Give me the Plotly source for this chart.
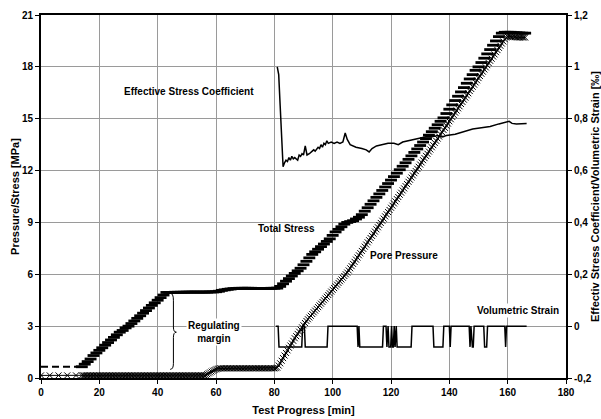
import plotly.graph_objects as go

# ---- data -------------------------------------------------------------
# Total stress: constant pre-load (dashed) then the logged stress curve
preload_time = [0, 13.5]
preload_stress = [0.65, 0.65]

stress_time = list(range(14, 167))
stress_mpa = [
    0.65, 0.8, 0.95, 1.1, 1.3, 1.45, 1.6, 1.75, 1.9, 2.05,          # 14-23
    2.2, 2.35, 2.5, 2.65, 2.75, 2.9, 3.0, 3.15, 3.3, 3.45,          # 24-33
    3.6, 3.75, 3.9, 4.05, 4.2, 4.35, 4.5, 4.65, 4.8, 4.95,          # 34-43
    4.95, 4.95, 4.96, 4.96, 4.96, 4.96, 4.97, 4.97, 4.97, 4.97,     # 44-53
    4.97, 4.97, 4.97, 4.97, 4.98, 4.98, 4.99, 5.02, 5.07, 5.1,      # 54-63
    5.13, 5.15, 5.17, 5.18, 5.19, 5.19, 5.19, 5.19, 5.19, 5.18,     # 64-73
    5.18, 5.18, 5.18, 5.18, 5.18, 5.19, 5.19, 5.2, 5.3, 5.45,       # 74-83
    5.6, 5.75, 5.9, 6.05, 6.2, 6.35, 6.55, 6.75, 6.95, 7.15,        # 84-93
    7.3, 7.45, 7.6, 7.75, 7.9, 8.05, 8.25, 8.45, 8.6, 8.75,         # 94-103
    8.9, 9.0, 9.05, 9.1, 9.2, 9.3, 9.45, 9.65, 9.85, 10.05,         # 104-113
    10.25, 10.45, 10.65, 10.85, 11.05, 11.25, 11.45, 11.65, 11.85, 12.05,  # 114-123
    12.25, 12.45, 12.65, 12.85, 13.05, 13.25, 13.45, 13.65, 13.85, 14.05,  # 124-133
    14.25, 14.45, 14.65, 14.85, 15.05, 15.3, 15.55, 15.8, 16.05, 16.3,     # 134-143
    16.55, 16.8, 17.05, 17.3, 17.55, 17.8, 18.0, 18.25, 18.5, 18.75,       # 144-153
    19.0, 19.25, 19.5, 19.75, 19.95, 20.0, 20.0, 20.0, 19.98, 19.97,       # 154-163
    19.96, 19.95, 19.95,                                                   # 164-166
]

# Pore pressure: sparse readings up to 12 min, then every half minute
pore_time = [0, 3, 6, 9, 12] + [k / 2 for k in range(28, 333)]
pore_mpa = [
    0.15, 0.15, 0.15, 0.15, 0.15,                                   # 0-12
    # 14.0 - 56.0
    0.15, 0.15, 0.15, 0.15, 0.15, 0.15, 0.15, 0.15, 0.15, 0.15,
    0.15, 0.15, 0.15, 0.15, 0.15, 0.15, 0.15, 0.15, 0.15, 0.15,
    0.15, 0.15, 0.15, 0.15, 0.15, 0.15, 0.15, 0.15, 0.15, 0.15,
    0.15, 0.15, 0.15, 0.15, 0.15, 0.15, 0.15, 0.15, 0.15, 0.15,
    0.15, 0.15, 0.15, 0.15, 0.15, 0.15, 0.15, 0.15, 0.15, 0.15,
    0.15, 0.15, 0.15, 0.15, 0.15, 0.15, 0.15, 0.15, 0.15, 0.15,
    0.15, 0.15, 0.15, 0.15, 0.15, 0.15, 0.15, 0.15, 0.15, 0.15,
    0.15, 0.15, 0.15, 0.15, 0.15, 0.15, 0.15, 0.15, 0.15, 0.15,
    0.15, 0.15, 0.15, 0.15, 0.15,
    # 56.5 - 61.5
    0.17, 0.22, 0.27, 0.32, 0.37, 0.42, 0.46, 0.5, 0.53, 0.55, 0.56,
    # 62.0 - 80.0
    0.56, 0.56, 0.56, 0.56, 0.56, 0.56, 0.56, 0.56, 0.56, 0.56,
    0.56, 0.56, 0.56, 0.56, 0.56, 0.56, 0.56, 0.56, 0.56, 0.56,
    0.56, 0.56, 0.56, 0.56, 0.56, 0.56, 0.56, 0.56, 0.56, 0.56,
    0.56, 0.56, 0.56, 0.56, 0.56, 0.56, 0.56,
    # 80.5 - 81.0
    0.57, 0.6,
    # 81.5 - 166.0
    0.72, 0.85, 1.0, 1.15, 1.3, 1.45, 1.6, 1.75, 1.88, 2.0,
    2.15, 2.3, 2.42, 2.55, 2.68, 2.8, 2.93, 3.05, 3.18, 3.3,
    3.4, 3.5, 3.6, 3.7, 3.8, 3.9, 4.0, 4.1, 4.2, 4.3,
    4.4, 4.5, 4.6, 4.7, 4.8, 4.9, 5.0, 5.1, 5.2, 5.3,
    5.4, 5.5, 5.6, 5.7, 5.8, 5.9, 6.0, 6.1, 6.22, 6.35,
    6.47, 6.6, 6.72, 6.85, 6.97, 7.1, 7.22, 7.35, 7.47, 7.6,
    7.72, 7.85, 7.97, 8.1, 8.22, 8.35, 8.47, 8.6, 8.72, 8.85,
    8.97, 9.1, 9.22, 9.35, 9.47, 9.6, 9.72, 9.85, 9.97, 10.1,
    10.22, 10.35, 10.47, 10.6, 10.72, 10.85, 10.97, 11.1, 11.22, 11.35,
    11.47, 11.6, 11.72, 11.85, 11.97, 12.1, 12.22, 12.35, 12.47, 12.6,
    12.72, 12.85, 12.97, 13.1, 13.22, 13.35, 13.47, 13.6, 13.72, 13.85,
    13.97, 14.1, 14.22, 14.35, 14.47, 14.6, 14.72, 14.85, 14.97, 15.1,
    15.22, 15.35, 15.47, 15.6, 15.72, 15.85, 15.97, 16.1, 16.22, 16.35,
    16.47, 16.6, 16.72, 16.85, 16.97, 17.1, 17.22, 17.35, 17.47, 17.6,
    17.72, 17.85, 17.97, 18.1, 18.22, 18.35, 18.47, 18.6, 18.72, 18.85,
    18.97, 19.1, 19.22, 19.35, 19.47, 19.6, 19.7, 19.75, 19.76, 19.75,
    19.74, 19.73, 19.72, 19.71, 19.7, 19.7, 19.7, 19.7, 19.7, 19.7,
]

# Effective stress coefficient (right axis, dimensionless)
esc_time = [
    81.0, 81.5, 82.0, 82.5, 83.0, 83.5, 84.0, 84.5, 85.0, 85.5,
    86.0, 86.5, 87.0, 88.0, 88.5, 89.0, 89.5, 90.0, 90.6, 91.2,
    92.0, 93.0, 93.5, 94.0, 95.0, 95.5, 96.0, 96.5, 97.0, 97.5,
    98.0, 98.5, 99.5, 100.5, 101.5, 102.5, 103.5, 104.3, 105.0, 106.0,
    108.0, 110.0, 111.5, 112.5, 113.5, 115.0, 117.0, 119.0, 121.0, 122.5,
    124.0, 126.0, 128.0, 130.0, 132.0, 134.0, 136.0, 137.5, 139.0, 142.0,
    145.0, 148.0, 151.0, 154.0, 157.0, 159.0, 160.5, 161.5, 163.0, 166.5,
]
esc_value = [
    1.0, 0.97, 0.85, 0.70, 0.615, 0.63, 0.64, 0.635, 0.65, 0.64,
    0.655, 0.645, 0.65, 0.64, 0.66, 0.655, 0.665, 0.66, 0.695, 0.66,
    0.665, 0.675, 0.68, 0.675, 0.69, 0.685, 0.70, 0.69, 0.705, 0.70,
    0.715, 0.705, 0.71, 0.705, 0.71, 0.705, 0.71, 0.745, 0.72, 0.70,
    0.69, 0.685, 0.68, 0.672, 0.685, 0.695, 0.70, 0.705, 0.705, 0.70,
    0.71, 0.715, 0.72, 0.725, 0.73, 0.73, 0.735, 0.73, 0.735, 0.74,
    0.75, 0.76, 0.765, 0.77, 0.78, 0.785, 0.79, 0.782, 0.78, 0.782,
]

# Volumetric strain [permille] (right axis)
vol_time = [
    80.5, 81.3, 81.6, 89.4, 89.7, 90.3, 90.6, 98.1, 98.4, 108.4,
    108.7, 109.0, 109.3, 117.1, 117.4, 118.3, 118.6, 119.0, 119.3, 119.9,
    120.2, 120.5, 120.8, 121.1, 121.4, 121.8, 122.1, 126.9, 127.2, 134.4,
    134.7, 137.8, 138.1, 140.0, 140.3, 140.6, 146.8, 147.1, 147.4, 147.9,
    148.2, 148.5, 151.8, 152.1, 152.8, 153.1, 159.0, 159.3, 159.6, 166.5,
]
vol_value = [
    0, 0, -0.08, -0.08, 0, 0, -0.08, -0.08, 0, 0,
    -0.08, 0, -0.08, -0.08, 0, 0, -0.08, 0, -0.08, -0.08,
    0, -0.08, -0.08, 0, -0.08, 0, -0.08, -0.08, 0, 0,
    -0.08, -0.08, 0, 0, -0.08, 0, 0, -0.08, 0, -0.08,
    -0.08, 0, 0, -0.08, -0.08, 0, 0, -0.08, 0, 0,
]

x_ticks = [0, 20, 40, 60, 80, 100, 120, 140, 160, 180]
y_ticks = [0, 3, 6, 9, 12, 15, 18, 21]
y2_ticks = [-0.2, 0, 0.2, 0.4, 0.6, 0.8, 1.0, 1.2]
y2_labels = ["-0,2", "0", "0,2", "0,4", "0,6", "0,8", "1", "1,2"]

# ---- figure -----------------------------------------------------------
FONT = "Liberation Sans, Arial, sans-serif"
fig = go.Figure()

fig.add_trace(go.Scatter(
    x=preload_time, y=preload_stress, mode="lines",
    line=dict(color="black", width=2, dash="7px,4px"), showlegend=False))

fig.add_trace(go.Scatter(
    x=stress_time, y=stress_mpa, mode="markers",
    marker=dict(symbol="line-ew", size=8.5, color="black",
                line=dict(color="black", width=2.8)),
    showlegend=False))

fig.add_trace(go.Scatter(
    x=pore_time, y=pore_mpa, mode="lines+markers",
    line=dict(color="black", width=1),
    marker=dict(symbol="x-thin", size=6, color="black",
                line=dict(color="black", width=1)),
    showlegend=False))

fig.add_trace(go.Scatter(
    x=esc_time, y=esc_value, yaxis="y2", mode="lines",
    line=dict(color="black", width=1.5), showlegend=False))

fig.add_trace(go.Scatter(
    x=vol_time, y=vol_value, yaxis="y2", mode="lines",
    line=dict(color="black", width=1.5), showlegend=False))

label_font = dict(family=FONT, size=10, color="black", weight="bold")

fig.add_annotation(x=50.8, y=16.6, text="Effective Stress Coefficient",
                   showarrow=False, font=label_font)
fig.add_annotation(x=84.1, y=8.65, text="Total Stress",
                   showarrow=False, font=label_font)
fig.add_annotation(x=124.5, y=7.1, text="Pore Pressure",
                   showarrow=False, font=label_font)
fig.add_annotation(x=163.5, y=3.9, text="Volumetric Strain",
                   showarrow=False, font=label_font, bgcolor="white")
fig.add_annotation(x=59.4, y=2.65, text="Regulating<br>margin",
                   showarrow=False, font=label_font, bgcolor="white")

# curly brace marking the regulating margin
fig.add_shape(type="path", xref="x", yref="y",
              path="M 44.3 4.9 Q 45.4 4.9 45.4 4.5 L 45.4 2.95 "
                   "Q 45.4 2.65 46.4 2.65 Q 45.4 2.65 45.4 2.35 "
                   "L 45.4 0.85 Q 45.4 0.5 44.3 0.5",
              line=dict(color="black", width=1))

axis_font = dict(family=FONT, size=11, color="black", weight="bold")
tick_font = dict(family=FONT, size=10, color="black", weight="bold")

fig.update_layout(
    width=601, height=419,
    margin=dict(l=41, r=35, t=15, b=41),
    paper_bgcolor="white", plot_bgcolor="white",
    font=dict(family=FONT, color="black"),
    xaxis=dict(
        range=[0, 180], tickvals=x_ticks, ticks="outside", ticklen=4,
        tickcolor="black", tickfont=tick_font,
        showline=True, linecolor="black", linewidth=2, mirror=True,
        showgrid=True, gridcolor="#9a9a9a", gridwidth=1, zeroline=False,
        title=dict(text="Test Progress [min]", font=axis_font, standoff=9),
        automargin=False),
    yaxis=dict(
        range=[0, 21], tickvals=y_ticks, ticks="outside", ticklen=4,
        tickcolor="black", tickfont=tick_font,
        showline=True, linecolor="black", linewidth=2, mirror=True,
        showgrid=True, gridcolor="#9a9a9a", gridwidth=1, zeroline=False,
        title=dict(text="Pressure/Stress [MPa]", font=axis_font, standoff=0),
        automargin=False),
    yaxis2=dict(
        range=[-0.2, 1.2], overlaying="y", side="right",
        tickvals=y2_ticks, ticktext=y2_labels, ticks="outside", ticklen=4,
        tickcolor="black", tickfont=tick_font,
        showline=True, linecolor="black", linewidth=2,
        showgrid=False, zeroline=False,
        title=dict(text="Effectiv Stress Coefficient/Volumetric Strain [‰]",
                   font=axis_font, standoff=3),
        automargin=False),
)

fig.write_html("out.html")
